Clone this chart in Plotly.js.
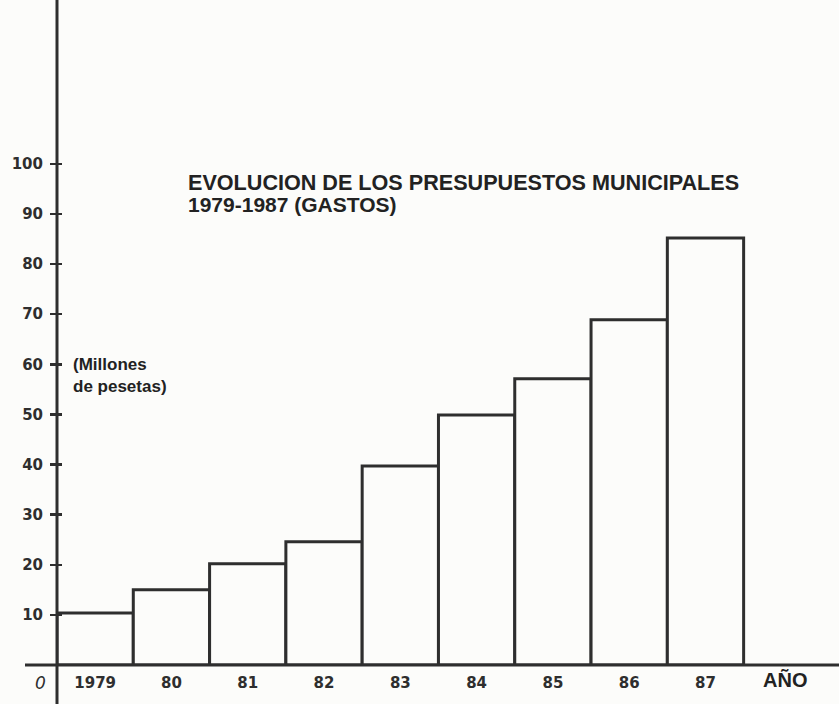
<!DOCTYPE html>
<html>
<head>
<meta charset="utf-8">
<script src="https://cdn.plot.ly/plotly-3.0.1.min.js"></script>
<style>html,body{margin:0;padding:0;background:#fcfcfa;}#chart{width:839px;height:704px;}</style>
</head>
<body>
<div id="chart"></div>
<script>
// Data
const years = ['1979', '1980', '1981', '1982', '1983', '1984', '1985', '1986', '1987'];
const yearLabels = ['1979', '80', '81', '82', '83', '84', '85', '86', '87'];
const gastos = [10.4, 15.0, 20.2, 24.6, 39.7, 49.9, 57.1, 68.9, 85.2]; // millones de pesetas
const yTickVals = [10, 20, 30, 40, 50, 60, 70, 80, 90, 100];
const yTickText = ['10', '20', '30', '40', '50', '60', '70', '80', '90', '100'];
const titleLine1 = 'EVOLUCION DE LOS PRESUPUESTOS MUNICIPALES';
const titleLine2 = '1979-1987 (GASTOS)';
const unitText = '(Millones<br>de pesetas)';
const xAxisName = 'AÑO';
const originLabel = '0';

const ink = '#2e2e2e';
const paper = '#fcfcfa';
const printFont = 'Liberation Sans, Arial, sans-serif';

const traces = [
  {
    type: 'bar',
    x: years,
    y: gastos,
    width: 1,
    marker: {color: paper, line: {color: ink, width: 3}},
    hoverinfo: 'x+y',
    showlegend: false
  },
  {
    // invisible helper so the overlay axis (inner half of the tick crosses) is drawn
    type: 'scatter',
    x: years,
    y: gastos,
    yaxis: 'y2',
    mode: 'markers',
    marker: {opacity: 0},
    hoverinfo: 'skip',
    showlegend: false
  }
];

const yRange = [0, 132.7];

const layout = {
  width: 839,
  height: 704,
  margin: {l: 57, r: 0, t: 0, b: 39},
  paper_bgcolor: paper,
  plot_bgcolor: paper,
  bargap: 0,
  showlegend: false,
  xaxis: {
    type: 'category',
    range: [-0.5, 9.75],
    tickvals: years,
    ticktext: yearLabels,
    ticks: '',
    showgrid: false,
    zeroline: false,
    showline: false,
    tickfont: {family: 'DejaVu Sans', size: 15, color: ink, weight: 'bold'},
    ticklabelstandoff: 7,
    fixedrange: true
  },
  yaxis: {
    range: yRange,
    tickvals: yTickVals,
    ticktext: yTickText,
    ticks: 'outside',
    ticklen: 6,
    tickwidth: 2.5,
    tickcolor: ink,
    showgrid: false,
    zeroline: false,
    showline: false,
    tickfont: {family: 'DejaVu Sans', size: 15, color: ink, weight: 'bold'},
    ticklabelstandoff: 4,
    fixedrange: true
  },
  yaxis2: {
    overlaying: 'y',
    side: 'left',
    range: yRange,
    tickvals: yTickVals,
    ticks: 'inside',
    ticklen: 5,
    tickwidth: 2.5,
    tickcolor: ink,
    showticklabels: false,
    showgrid: false,
    zeroline: false,
    showline: false,
    fixedrange: true
  },
  shapes: [
    // vertical axis, running past the baseline to the bottom edge
    {type: 'line', xref: 'paper', yref: 'paper', x0: 0, x1: 0, y0: -39 / 665, y1: 1,
     line: {color: ink, width: 3}, layer: 'above'},
    // horizontal axis, starting slightly left of the vertical axis
    {type: 'line', xref: 'paper', yref: 'paper', x0: -32 / 782, x1: 1, y0: 0, y1: 0,
     line: {color: ink, width: 3}, layer: 'above'}
  ],
  annotations: [
    {text: titleLine1, xref: 'paper', yref: 'paper', x: 129 / 782, y: (665 - 183) / 665,
     xanchor: 'left', yanchor: 'middle', showarrow: false,
     font: {family: printFont, size: 21.6, color: '#222', weight: 'bold'}},
    {text: titleLine2, xref: 'paper', yref: 'paper', x: 129 / 782, y: (665 - 204) / 665,
     xanchor: 'left', yanchor: 'middle', showarrow: false,
     font: {family: printFont, size: 21, color: '#222', weight: 'bold'}},
    {text: unitText, xref: 'paper', yref: 'paper', x: 14 / 782, y: (665 - 375) / 665,
     xanchor: 'left', yanchor: 'middle', align: 'left', showarrow: false,
     font: {family: printFont, size: 17, color: '#222', weight: 'bold'}},
    {text: originLabel, xref: 'paper', yref: 'paper', x: -17 / 782, y: (665 - 683) / 665,
     xanchor: 'center', yanchor: 'middle', showarrow: false,
     font: {family: 'DejaVu Sans', size: 17, color: ink, style: 'italic'}},
    {text: xAxisName, xref: 'paper', yref: 'paper', x: 728 / 782, y: (665 - 680) / 665,
     xanchor: 'center', yanchor: 'middle', showarrow: false,
     font: {family: printFont, size: 20, color: '#222', weight: 'bold'}}
  ]
};

Plotly.newPlot('chart', traces, layout, {displayModeBar: false, staticPlot: true});
</script>
</body>
</html>
